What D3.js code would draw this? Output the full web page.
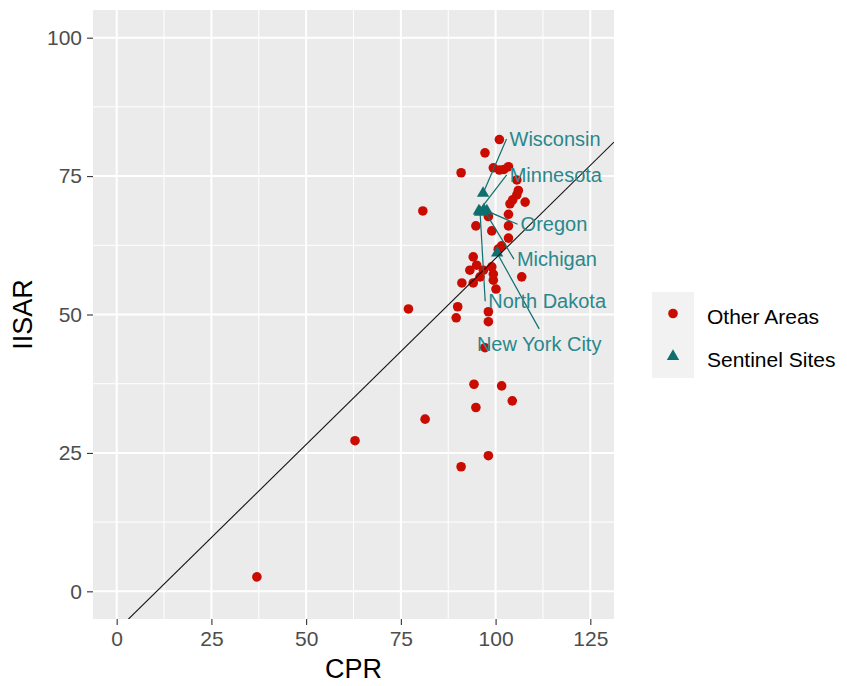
<!DOCTYPE html>
<html>
<head>
<meta charset="utf-8">
<script src="https://cdn.jsdelivr.net/npm/d3@7"></script>
<style>
body { margin: 0; background: #fff; }
svg text { font-family: "Liberation Sans", Arial, sans-serif; }
</style>
</head>
<body>
<svg id="chart"></svg>
<script>
// other areas (red dots)
let otherCpr = [101.0, 97.2, 90.9, 99.4, 101.0, 102.2, 103.4, 105.6, 106.0, 105.6, 104.5, 103.8, 107.8,
	80.8, 98.1, 103.4, 94.8, 103.4, 99.0, 103.4, 101.6, 100.7, 94.1, 95.0, 93.2, 96.8, 95.9, 94.1, 91.1,
	99.0, 99.4, 99.4, 100.1, 106.9, 90.0, 89.6, 98.1, 98.1, 77.0, 97.2, 94.3, 101.6, 104.4, 94.8, 81.4,
	62.9, 98.1, 90.9, 37.0];
let otherIisar = [81.6, 79.2, 75.6, 76.5, 76.1, 76.2, 76.7, 74.3, 72.4, 71.6, 70.7, 70.0, 70.3,
	68.7, 67.7, 68.1, 66.0, 66.0, 65.1, 63.8, 62.4, 61.8, 60.4, 58.9, 58.0, 58.0, 56.8, 55.7, 55.7,
	58.6, 57.3, 56.2, 54.6, 56.8, 51.4, 49.4, 50.5, 48.7, 51.0, 44.0, 37.4, 37.1, 34.4, 33.2, 31.1,
	27.2, 24.5, 22.5, 2.6];

// sentinel sites (teal triangles) and where their repelled labels ended up
let sentinelNames = ['Wisconsin', 'Minnesota', 'Oregon', 'Michigan', 'North Dakota', 'New York City'];
let sentinelCpr = [96.7, 95.6, 97.7, 96.9, 95.9, 100.4];
let sentinelIisar = [71.9, 68.7, 68.7, 68.9, 68.5, 61.1];
let labelCpr = [115.7, 115.9, 115.4, 116.2, 113.6, 111.5];
let labelIisar = [81.7, 75.2, 66.3, 60.0, 52.4, 44.7];

let xTicks = [0, 25, 50, 75, 100, 125];
let yTicks = [0, 25, 50, 75, 100];
let xMinor = [12.5, 37.5, 62.5, 87.5, 112.5];
let yMinor = [12.5, 37.5, 62.5, 87.5];

let legendLabels = ['Other Areas', 'Sentinel Sites'];

// reference line
let lineIntercept = -7.1;
let lineSlope = 0.6724;

let w = 847, h = 686;
let panel = { left: 93, right: 614, top: 10, bottom: 619 };
let red = '#CA0C00', teal = '#0F6F6E', labelTeal = '#2A878B';
let dotR = 4.8;

let chart = d3.select('#chart').attr('width', w).attr('height', h);

let xScale = d3.scaleLinear().domain([-6.25, 131.25]).range([panel.left, panel.right]);
let yScale = d3.scaleLinear().domain([-5, 105]).range([panel.bottom, panel.top]);

// panel background
chart.append('rect')
	.attr('x', panel.left).attr('y', panel.top)
	.attr('width', panel.right - panel.left).attr('height', panel.bottom - panel.top)
	.attr('fill', '#EBEBEB');

chart.append('clipPath').attr('id', 'clip')
	.append('rect')
	.attr('x', panel.left).attr('y', panel.top)
	.attr('width', panel.right - panel.left).attr('height', panel.bottom - panel.top);

// gridlines
let grid = chart.append('g');
grid.selectAll('.xminor').data(xMinor).enter().append('line')
	.attr('x1', (d) => xScale(d)).attr('x2', (d) => xScale(d))
	.attr('y1', panel.top).attr('y2', panel.bottom)
	.attr('stroke', '#fff').attr('stroke-width', 1);
grid.selectAll('.yminor').data(yMinor).enter().append('line')
	.attr('y1', (d) => yScale(d)).attr('y2', (d) => yScale(d))
	.attr('x1', panel.left).attr('x2', panel.right)
	.attr('stroke', '#fff').attr('stroke-width', 1);
grid.selectAll('.xmajor').data(xTicks).enter().append('line')
	.attr('x1', (d) => xScale(d)).attr('x2', (d) => xScale(d))
	.attr('y1', panel.top).attr('y2', panel.bottom)
	.attr('stroke', '#fff').attr('stroke-width', 2);
grid.selectAll('.ymajor').data(yTicks).enter().append('line')
	.attr('y1', (d) => yScale(d)).attr('y2', (d) => yScale(d))
	.attr('x1', panel.left).attr('x2', panel.right)
	.attr('stroke', '#fff').attr('stroke-width', 2);

// points
let others = otherCpr.map((d, i) => ({ cpr: d, iisar: otherIisar[i] }));
let sentinels = sentinelCpr.map((d, i) => ({
	name: sentinelNames[i], cpr: d, iisar: sentinelIisar[i], lx: labelCpr[i], ly: labelIisar[i]
}));

chart.append('g').selectAll('circle').data(others).enter().append('circle')
	.attr('cx', (d) => xScale(d.cpr))
	.attr('cy', (d) => yScale(d.iisar))
	.attr('r', dotR)
	.attr('fill', red);

let tri = d3.symbol().type(d3.symbolTriangle).size(66);
chart.append('g').selectAll('path').data(sentinels).enter().append('path')
	.attr('d', tri)
	.attr('transform', (d) => `translate(${xScale(d.cpr)},${yScale(d.iisar)})`)
	.attr('fill', teal);

// abline
let x0 = xScale.domain()[0], x1 = xScale.domain()[1];
chart.append('line')
	.attr('clip-path', 'url(#clip)')
	.attr('x1', xScale(x0)).attr('y1', yScale(lineIntercept + lineSlope * x0))
	.attr('x2', xScale(x1)).attr('y2', yScale(lineIntercept + lineSlope * x1))
	.attr('stroke', '#111').attr('stroke-width', 1.1);

// repelled labels with segments
let labels = chart.append('g');
sentinels.forEach(function (d) {
	let t = labels.append('text')
		.attr('x', xScale(d.lx)).attr('y', yScale(d.ly))
		.attr('text-anchor', 'middle')
		.attr('dominant-baseline', 'central')
		.attr('font-size', 20)
		.attr('fill', labelTeal)
		.text(d.name);
	let bb = t.node().getBBox();
	let cx = xScale(d.lx), cy = yScale(d.ly);
	let px = xScale(d.cpr), py = yScale(d.iisar);
	// candidate segment starts: mid points of the padded label box
	let cands = [
		[bb.x - 3, cy], [bb.x + bb.width + 3, cy],
		[cx, bb.y - 4], [cx, bb.y + bb.height + 4]
	];
	let best = cands[0], bestD = Infinity;
	cands.forEach(function (c) {
		let dd = Math.hypot(c[0] - px, c[1] - py);
		if (dd < bestD) { bestD = dd; best = c; }
	});
	let len = Math.hypot(best[0] - px, best[1] - py);
	let pad = 3 / len;
	labels.insert('line', 'text')
		.attr('x1', best[0]).attr('y1', best[1])
		.attr('x2', px + (best[0] - px) * pad).attr('y2', py + (best[1] - py) * pad)
		.attr('stroke', teal).attr('stroke-width', 1.2);
});

// axes
let xAxis = d3.axisBottom(xScale).tickValues(xTicks).tickSize(6).tickPadding(6);
let yAxis = d3.axisLeft(yScale).tickValues(yTicks).tickSize(6).tickPadding(5);

let xAxisGroup = chart.append('g')
	.attr('transform', `translate(0,${panel.bottom})`)
	.call(xAxis);
let yAxisGroup = chart.append('g')
	.attr('transform', `translate(${panel.left},0)`)
	.call(yAxis);

[xAxisGroup, yAxisGroup].forEach(function (g) {
	g.select('.domain').remove();
	g.selectAll('.tick line').attr('stroke', '#333').attr('stroke-width', 1.1);
	g.selectAll('.tick text')
		.attr('fill', '#4D4D4D')
		.style('font-size', '21px')
		.style('font-family', '"Liberation Sans", Arial, sans-serif');
});

// axis titles
chart.append('text')
	.attr('x', (panel.left + panel.right) / 2)
	.attr('y', 678)
	.attr('text-anchor', 'middle')
	.attr('font-size', 27)
	.attr('fill', '#000')
	.text('CPR');

chart.append('text')
	.attr('transform', 'rotate(-90)')
	.attr('x', -(panel.top + panel.bottom) / 2)
	.attr('y', 32)
	.attr('text-anchor', 'middle')
	.attr('font-size', 27)
	.attr('fill', '#000')
	.text('IISAR');

// legend
let legend = chart.append('g').attr('transform', 'translate(652,292)');
let keyH = 43;
legend.selectAll('rect').data(legendLabels).enter().append('rect')
	.attr('x', 0).attr('y', (d, i) => i * keyH)
	.attr('width', 42).attr('height', keyH)
	.attr('fill', '#F2F2F2');
legend.append('circle')
	.attr('cx', 21).attr('cy', keyH / 2)
	.attr('r', dotR).attr('fill', red);
legend.append('path')
	.attr('d', tri)
	.attr('transform', `translate(21,${keyH * 1.5})`)
	.attr('fill', teal);
legend.selectAll('text').data(legendLabels).enter().append('text')
	.attr('x', 55)
	.attr('y', (d, i) => i * keyH + keyH / 2 + 3)
	.attr('dominant-baseline', 'central')
	.attr('font-size', 21)
	.attr('fill', '#000')
	.text((d) => d);
</script>
</body>
</html>
